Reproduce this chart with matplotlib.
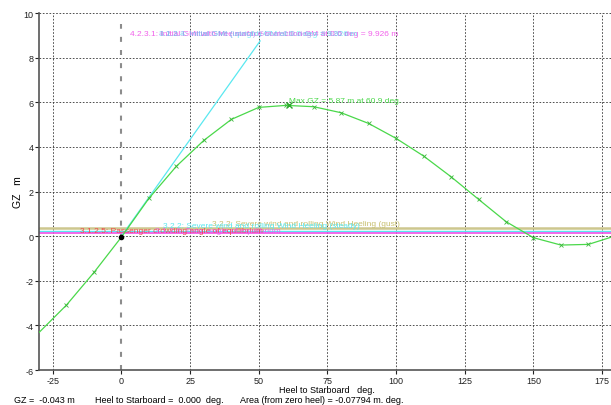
"""GZ curve (heel to starboard) with criteria lines, stability-report style."""

import matplotlib
matplotlib.use("Agg")
import matplotlib.pyplot as plt
import numpy as np

# GZ curve, every 10 deg
heel_deg = [-30, -20, -10, 0, 10, 20, 30, 40, 50, 60, 70, 80, 90,
            100, 110, 120, 130, 140, 150, 160, 170, 180]
gz_m = [-4.32, -3.09, -1.63, -0.043, 1.69, 3.13, 4.29, 5.23, 5.77, 5.86, 5.80,
        5.53, 5.05, 4.38, 3.59, 2.66, 1.65, 0.65, -0.07, -0.40, -0.37, 0.02]
marker_heel = [-20, -10, 10, 20, 30, 40, 50, 60, 70, 80, 90,
               100, 110, 120, 130, 140, 150, 160, 170]

max_gz = 5.87
max_gz_heel = 60.9
eq_heel = 0.0
eq_gz = -0.043

# initial GM tangent line
gm_value = 9.926
gm_line_end_deg = 50.5

# heeling arm lines
arm_gust = 0.35
arm_steady = 0.24
arm_crowding = 0.12

x_ticks = [-25, 0, 25, 50, 75, 100, 125, 150, 175]
y_ticks = [-6, -4, -2, 0, 2, 4, 6, 8, 10]

FONT = ["Liberation Sans", "DejaVu Sans"]
plt.rcParams["font.family"] = FONT
plt.rcParams["axes.unicode_minus"] = False

GREEN = "#4ad84a"
CYAN = "#5ae8f0"
MAGENTA = "#f050e8"
RED = "#f04848"
KHAKI = "#cdc78e"


def main() -> None:
    fig = plt.figure(figsize=(6.11, 4.06), dpi=100)
    ax = fig.add_axes([0.0638, 0.0862, 0.9442, 0.8793])
    ax.set_xlim(-30, 180)
    ax.set_ylim(-6, 10)

    # grid, with the zero-heel line drawn separately
    for xv in x_ticks:
        if xv != 0:
            ax.axvline(xv, color="#333333", lw=0.6, ls=(0, (2, 2)), zorder=1)
    for yv in y_ticks:
        ax.axhline(yv, color="#333333", lw=0.6, ls=(0, (2, 2)), zorder=1)
    ax.axvline(0, ymax=0.97, color="#8c8c8c", lw=1.5, ls=(0, (2.4, 3.9)), zorder=1)

    # heeling arm lines
    ax.axhline(arm_gust, color=KHAKI, lw=1.8, zorder=2)
    ax.axhline(arm_steady, color=CYAN, lw=1.0, zorder=2)
    ax.axhline(arm_crowding, color=MAGENTA, lw=1.2, zorder=2)

    # GM tangent
    ax.plot([0, gm_line_end_deg], [0, gm_value * gm_line_end_deg / 57.3],
            color=CYAN, lw=0.9, zorder=3)

    # GZ curve
    ax.plot(heel_deg, gz_m, color=GREEN, lw=0.9, zorder=4)
    mk_gz = [gz_m[heel_deg.index(h)] for h in marker_heel]
    ax.plot(marker_heel, mk_gz, ls="none", marker="x", ms=3.5, mew=0.6,
            color="#3cb83c", zorder=5)
    ax.plot([max_gz_heel], [max_gz], ls="none", marker="x", ms=4, mew=1.0,
            color="#2ea82e", zorder=5)
    ax.plot([eq_heel], [eq_gz], "o", color="black", ms=3, zorder=6)

    fs = 6
    ax.text(max_gz_heel, max_gz + 0.05, f"Max GZ = {max_gz:.2f} m at {max_gz_heel} deg.",
            color=GREEN, fontsize=fs, ha="left", va="bottom", zorder=6)

    # overlapping criteria labels at top
    ax.text(3.3, 9.1,
            f"4.2.3.1: Initial GMt with free surface correction GM at 0.0 deg = {gm_value:.3f} m",
            color=MAGENTA, fontsize=fs, va="center", alpha=0.9)
    ax.text(13.8, 9.1, f"3.1.2.4: Initial GMt (upright) GM at 0.0 deg = {gm_value:.3f} m",
            color=CYAN, fontsize=fs, va="center", alpha=0.8)
    ax.text(13.6, 9.1, f"4.2.3.3: Initial GMt (intact) GM at 0.0 deg = {gm_value:.3f} m",
            color="#a08cf0", fontsize=fs, va="center", alpha=0.7)

    # heeling-arm labels
    ax.text(33, 0.58, "3.2.2: Severe wind and rolling Wind Heeling (gust)",
            color="#c8c070", fontsize=fs, va="center")
    ax.text(15, 0.49, "3.2.2: Severe wind and rolling Wind Heeling (steady)",
            color=CYAN, fontsize=fs, va="center")
    ax.text(-15, 0.27, "3.1.2.5: Passenger crowding angle of equilibrium",
            color=RED, fontsize=fs, va="center")
    ax.text(12.4, 0.27, "3.1.2.6: Turn: angle of equilibrium",
            color=MAGENTA, fontsize=fs, va="center", alpha=0.85)

    # axes styling
    for side in ("top", "right"):
        ax.spines[side].set_visible(False)
    for side in ("left", "bottom"):
        ax.spines[side].set_color("#555555")
        ax.spines[side].set_linewidth(1.2)
    ax.set_xticks(x_ticks)
    ax.set_yticks(y_ticks)
    ax.tick_params(labelsize=6.5, length=3, width=0.8, pad=1, colors="#222222")
    ax.set_xlabel("Heel to Starboard   deg.", fontsize=6.5, labelpad=0)
    ax.set_ylabel("GZ   m", fontsize=7.5, labelpad=0)

    # readout line under the chart
    fig.text(14 / 611, 1 - 401 / 406, f"GZ =  {eq_gz:.3f} m", fontsize=6.5, va="center")
    fig.text(95 / 611, 1 - 401 / 406, f"Heel to Starboard =  {eq_heel:.3f}  deg.",
             fontsize=6.5, va="center")
    fig.text(240 / 611, 1 - 401 / 406, "Area (from zero heel) = -0.07794 m. deg.",
             fontsize=6.5, va="center")

    fig.savefig("out.png", dpi=100)
    plt.close(fig)


if __name__ == "__main__":
    main()
